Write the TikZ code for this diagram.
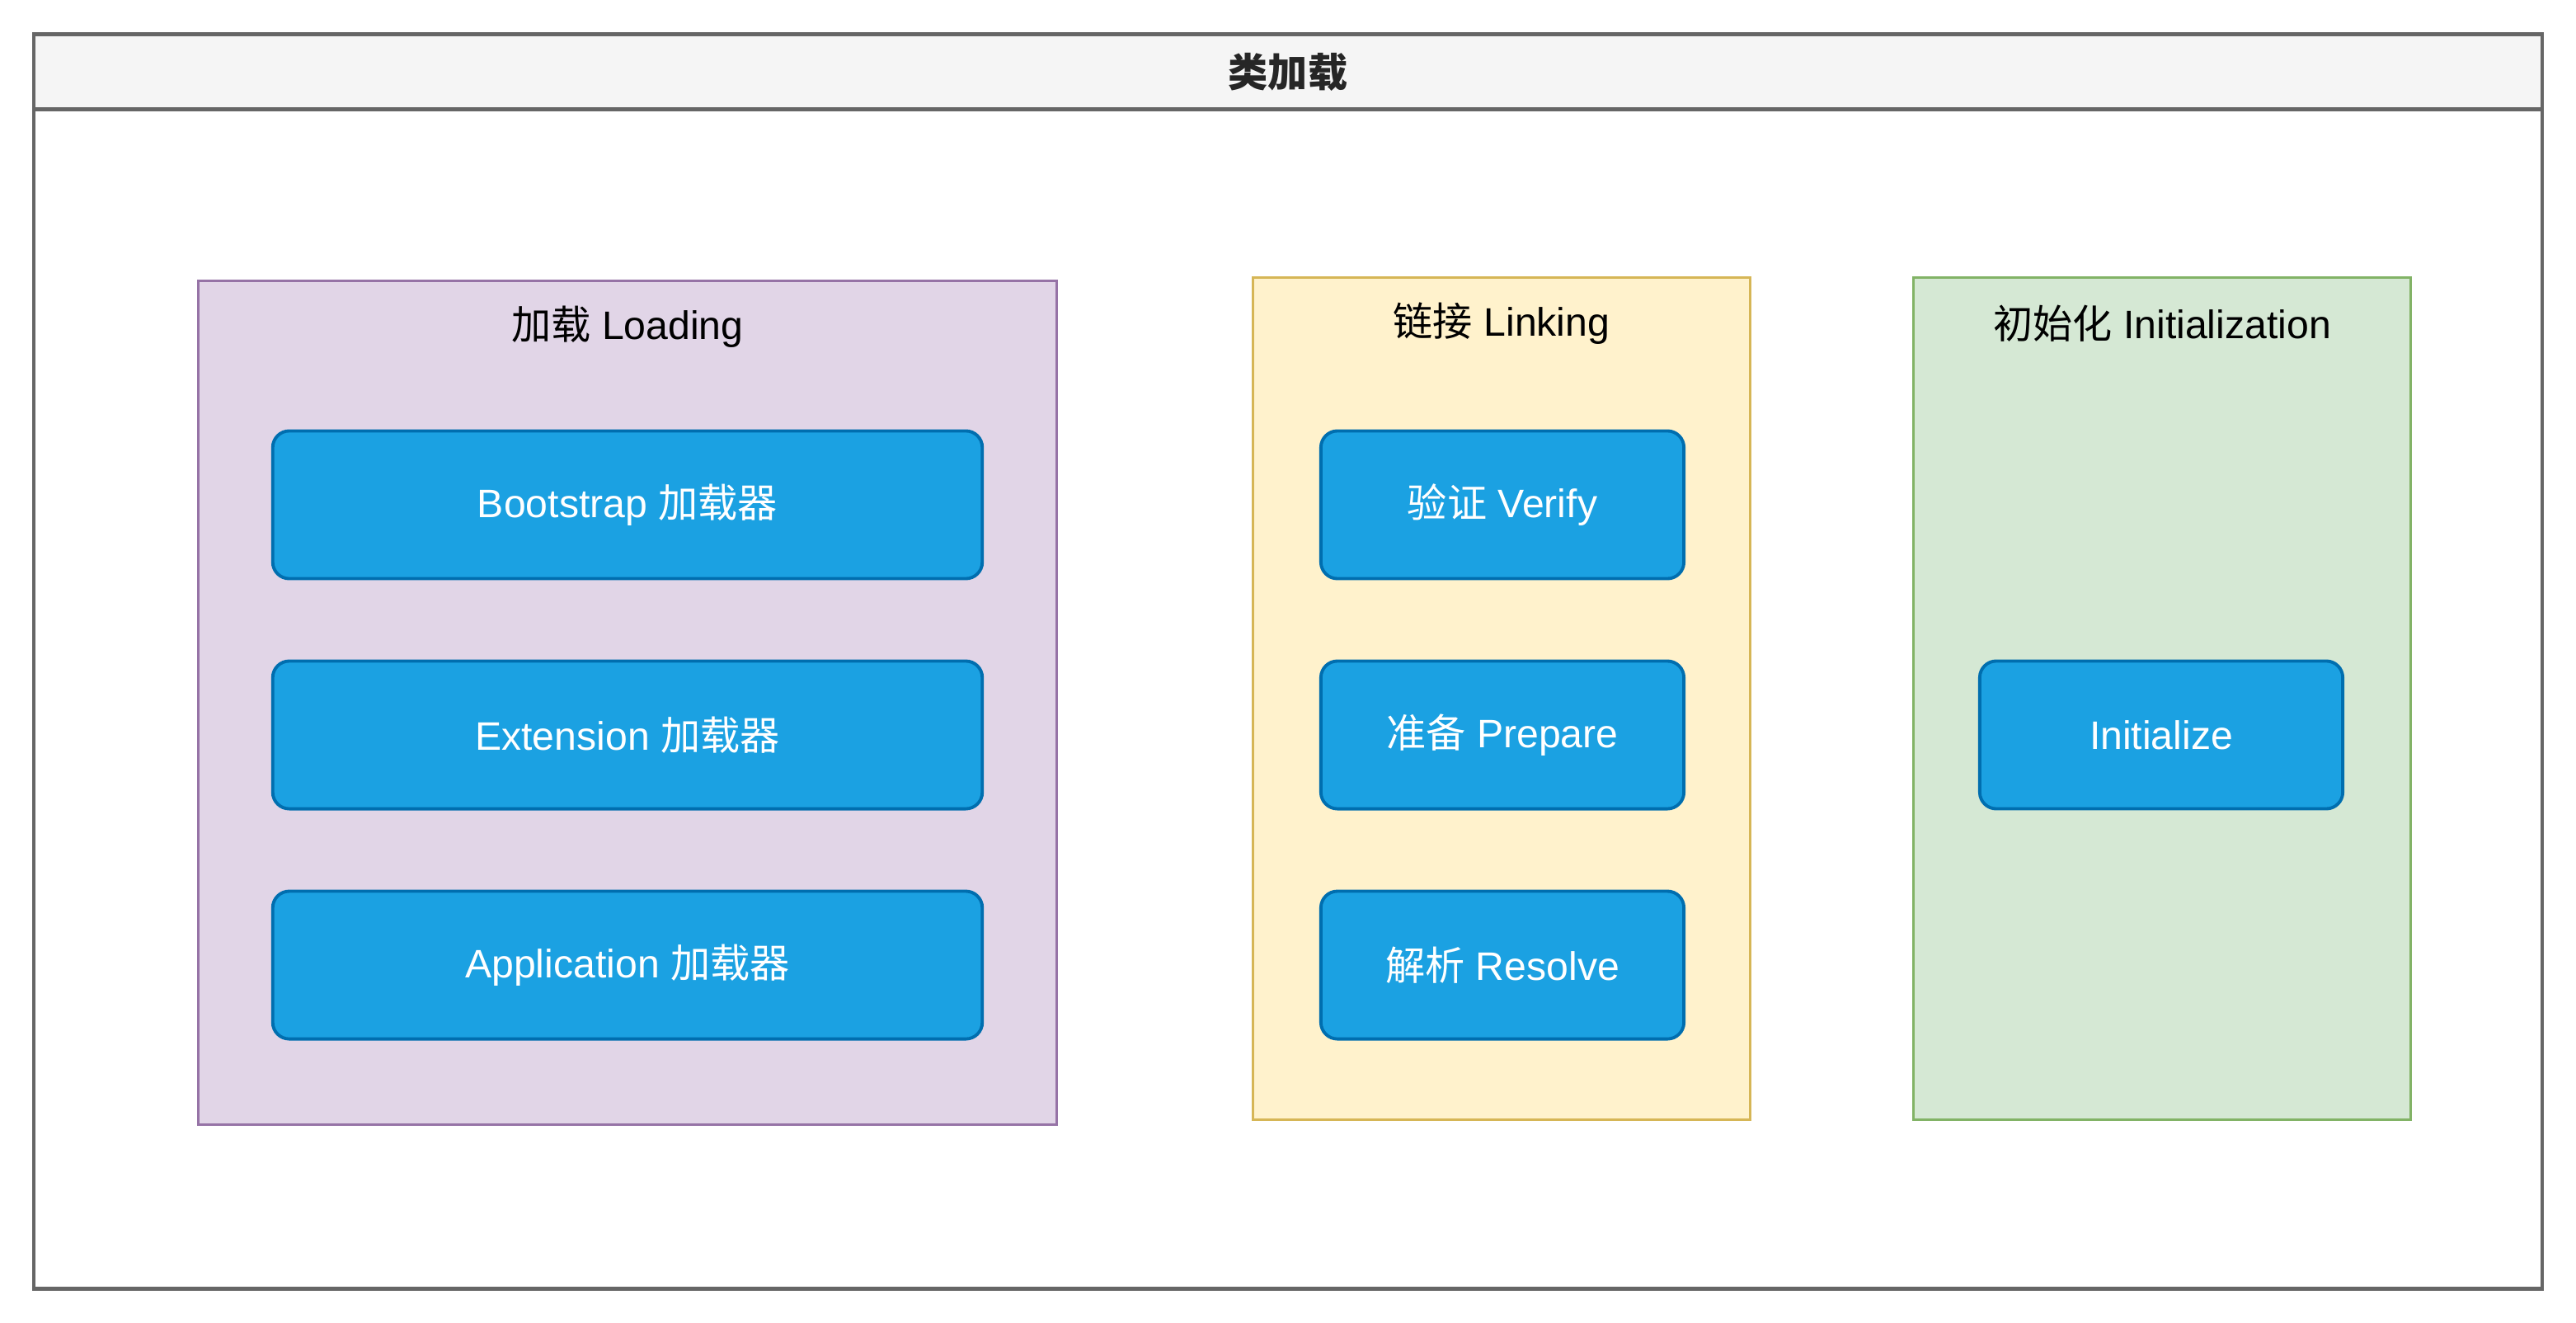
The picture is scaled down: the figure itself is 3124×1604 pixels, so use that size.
\documentclass[tikz,border=0pt]{standalone}
\usepackage{fontspec}
\setmainfont{Liberation Sans}
\newfontfamily\cjk{Noto Sans CJK SC}
\usetikzlibrary{positioning}

\definecolor{poolLine}{HTML}{666666}
\definecolor{poolHead}{HTML}{F5F5F5}
\definecolor{loadFill}{HTML}{E1D5E7}
\definecolor{loadLine}{HTML}{9673A6}
\definecolor{linkFill}{HTML}{FFF2CC}
\definecolor{linkLine}{HTML}{D6B656}
\definecolor{initFill}{HTML}{D5E8D4}
\definecolor{initLine}{HTML}{82B366}
\definecolor{stepFill}{HTML}{1BA1E2}
\definecolor{stepLine}{HTML}{006EAF}

\tikzset{
  pool/.style={draw=poolLine, line width=1.2pt, inner sep=0pt},
  phase/.style={line width=0.9pt, inner sep=0pt, minimum height=10.2cm},
  stepbox/.style={draw=stepLine, fill=stepFill, text=white, line width=1.1pt,
    rounded corners=0.2cm, inner sep=0pt, minimum height=1.79cm},
  caption/.style={inner sep=0pt, text=black}
}

\begin{document}
\begin{tikzpicture}[x=0.01cm, y=-0.01cm, font=\fontsize{13.7pt}{16pt}\selectfont]

  \useasboundingbox (0,0) rectangle (3124,1604);

  % outer pool with its title bar
  \node[pool, fill=white, minimum width=30.4cm, minimum height=15.2cm] (pool) at (1562,802) {};
  \node[pool, fill=poolHead, text=black!85, font=\fontsize{13.7pt}{16pt}\selectfont\bfseries,
    minimum width=30.4cm, minimum height=0.91cm, anchor=north] (head) at (pool.north)
    {\raisebox{-1.2pt}{\cjk 类加载}};

  % the three phases
  \node[phase, draw=loadLine, fill=loadFill, minimum width=10.4cm, minimum height=10.22cm] (loading) at (761,852) {};
  \node[phase, draw=linkLine, fill=linkFill, minimum width=6.02cm] (linking) at (1821,847) {};
  \node[phase, draw=initLine, fill=initFill, minimum width=6.02cm] (init) at (2622,847) {};

  \node[caption] (loadingLbl) at ([yshift=-0.57cm]loading.north) {{\cjk 加载} Loading};
  \node[caption] (linkingLbl) at ([yshift=-0.57cm]linking.north) {{\cjk 链接} Linking};
  \node[caption] (initLbl)    at ([yshift=-0.57cm]init.north)    {{\cjk 初始化} Initialization};

  % loaders
  \node[stepbox, minimum width=8.6cm] (boot) at (761,612) {Bootstrap {\cjk 加载器}};
  \node[stepbox, minimum width=8.6cm, below=0.96cm of boot] (ext) {Extension {\cjk 加载器}};
  \node[stepbox, minimum width=8.6cm, below=0.96cm of ext]  (app) {Application {\cjk 加载器}};

  % linking steps
  \node[stepbox, minimum width=4.4cm] (verify) at (1822,612) {{\cjk 验证} Verify};
  \node[stepbox, minimum width=4.4cm, below=0.96cm of verify]  (prepare) {{\cjk 准备} Prepare};
  \node[stepbox, minimum width=4.4cm, below=0.96cm of prepare] (resolve) {{\cjk 解析} Resolve};

  % initialization
  \node[stepbox, minimum width=4.4cm] (initialize) at (2621,891) {Initialize};

\end{tikzpicture}
\end{document}
